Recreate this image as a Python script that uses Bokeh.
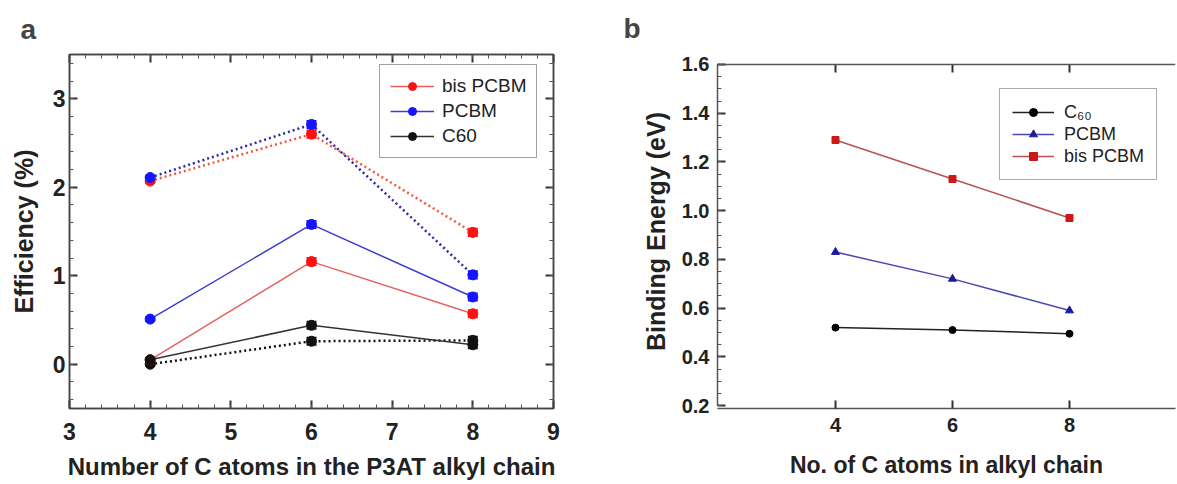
from bokeh.plotting import figure
from bokeh.models import (LinearAxis, SingleIntervalTicker, FixedTicker, Whisker, ColumnDataSource,
                          Legend, LegendItem, TeeHead, Range1d, CustomJSTickFormatter, Span,
                          PrintfTickFormatter)
from bokeh.layouts import row
from bokeh.embed import file_html
from bokeh.resources import INLINE

# ---------------- data: panel a ----------------
chain_a = [4, 6, 8]
bis_solid = [0.05, 1.16, 0.57]
bis_dot = [2.07, 2.60, 1.49]
pcbm_solid = [0.51, 1.58, 0.76]
pcbm_dot = [2.11, 2.71, 1.01]
c60_solid = [0.05, 0.44, 0.22]
c60_dot = [0.00, 0.26, 0.27]
err_a = [0.02, 0.04, 0.04]

# ---------------- data: panel b ----------------
chain_b = [4, 6, 8]
be_c60 = [0.52, 0.51, 0.495]
be_pcbm = [0.83, 0.72, 0.59]
be_bis = [1.29, 1.13, 0.97]
be_axis = (0.2, 1.6)

FONT = "Liberation Sans"
BLANK = CustomJSTickFormatter(code="return ''")
H, TOP, BOT = 484, 52, 76

# ================= panel a =================
pa = figure(width=575, height=H, x_range=Range1d(3, 9), y_range=Range1d(-0.5, 3.5),
            output_backend="svg", toolbar_location=None,
            min_border_left=69, min_border_right=22, min_border_top=TOP, min_border_bottom=BOT)
pa.grid.visible = False
pa.outline_line_color = "#444444"
pa.outline_line_width = 1.5

def style_axis(ax, size, show_labels=True):
    ax.major_tick_in = 8
    ax.major_tick_out = 0
    ax.minor_tick_in = 4
    ax.minor_tick_out = 0
    ax.major_tick_line_color = "#333333"
    ax.minor_tick_line_color = "#555555"
    ax.major_tick_line_width = 2
    ax.axis_line_color = "#444444"
    ax.axis_line_width = 1.5
    ax.major_label_text_font = FONT
    ax.major_label_text_font_style = "bold"
    ax.major_label_text_color = "#222222"
    ax.major_label_text_font_size = size
    if not show_labels:
        ax.formatter = BLANK
        ax.major_label_standoff = 0
    ax.axis_label_text_font = FONT
    ax.axis_label_text_font_style = "bold"
    ax.axis_label_text_color = "#222222"

xa = pa.xaxis[0]
xa.ticker = SingleIntervalTicker(interval=1, num_minor_ticks=5)
style_axis(xa, "23px")
xa.major_label_standoff = 14
xa.axis_label = "Number of C atoms in the P3AT alkyl chain"
xa.axis_label_text_font_size = "24px"
xa.axis_label_standoff = 10

ya = pa.yaxis[0]
ya.ticker = SingleIntervalTicker(interval=1, num_minor_ticks=5)
style_axis(ya, "23px")
ya.major_label_standoff = 4
ya.axis_label = "Efficiency (%)"
ya.axis_label_text_font_size = "25px"
ya.axis_label_standoff = 12

top_a = LinearAxis(ticker=SingleIntervalTicker(interval=1, num_minor_ticks=5))
style_axis(top_a, "23px", show_labels=False)
pa.add_layout(top_a, "above")
right_a = LinearAxis(ticker=SingleIntervalTicker(interval=1, num_minor_ticks=5))
style_axis(right_a, "23px", show_labels=False)
pa.add_layout(right_a, "right")

pa.title.text = "a"
pa.title.text_font = FONT
pa.title.text_font_style = "bold"
pa.title.text_font_size = "28px"
pa.title.align = "left"
pa.title.offset = -49
pa.title.standoff = 19

RED_M, RED_L, RED_D = "#ff1010", "#e86060", "#f05a40"
BLUE_M, BLUE_L, BLUE_D = "#1414ff", "#3c3cd0", "#2a2aa8"
BLK = "#111111"

def series(p, y, mcolor, lcolor, dash, lw):
    ln = p.line(chain_a, y, line_color=lcolor, line_width=lw, line_dash=dash)
    src = ColumnDataSource(dict(x=chain_a, up=[v + e for v, e in zip(y, err_a)],
                                lo=[v - e for v, e in zip(y, err_a)]))
    w = Whisker(source=src, base="x", upper="up", lower="lo", line_color=mcolor, line_width=2,
                upper_head=TeeHead(size=10, line_color=mcolor, line_width=2),
                lower_head=TeeHead(size=10, line_color=mcolor, line_width=2))
    p.add_layout(w)
    sc = p.scatter(chain_a, y, marker="circle", size=10, fill_color=mcolor, line_color=mcolor)
    return ln, sc

l1, s1 = series(pa, bis_dot, RED_M, RED_D, "2 3", 2.5)
l2, s2 = series(pa, pcbm_dot, BLUE_M, BLUE_D, "2 3", 2.5)
l3, s3 = series(pa, c60_dot, BLK, BLK, "2 3", 2.5)
l4, s4 = series(pa, bis_solid, RED_M, RED_L, "solid", 1.5)
l5, s5 = series(pa, pcbm_solid, BLUE_M, BLUE_L, "solid", 1.5)
l6, s6 = series(pa, c60_solid, BLK, "#333333", "solid", 1.5)

leg_a = Legend(items=[LegendItem(label="bis PCBM", renderers=[l4, s4]),
                      LegendItem(label="PCBM", renderers=[l5, s5]),
                      LegendItem(label="C60", renderers=[l6, s6])],
               location=(310, 250))
leg_a.label_text_font = FONT
leg_a.label_text_font_size = "19px"
leg_a.label_text_color = "#222222"
leg_a.glyph_width = 44
leg_a.label_standoff = 8
leg_a.label_height = 21
leg_a.spacing = 3
leg_a.padding = 10
leg_a.margin = 0
leg_a.border_line_color = "#444444"
leg_a.border_line_width = 1.5
pa.add_layout(leg_a, "center")

# ================= panel b =================
y0b, y1b = 0.188, 1.641
pb = figure(width=602, height=H, x_range=Range1d(1.983, 9.812), y_range=Range1d(y0b, y1b),
            output_backend="svg", toolbar_location=None,
            min_border_left=142, min_border_right=2, min_border_top=TOP, min_border_bottom=BOT)
pb.grid.visible = False
pb.outline_line_color = None

xb = pb.xaxis[0]
xb.ticker = FixedTicker(ticks=chain_b)
style_axis(xb, "20px")
xb.axis_line_color = "#555555"
xb.major_label_standoff = 9
xb.axis_label = "No. of C atoms in alkyl chain"
xb.axis_label_text_font_size = "23px"
xb.axis_label_standoff = 17

yb = pb.yaxis[0]
yb.ticker = SingleIntervalTicker(interval=0.2, num_minor_ticks=4)
yb.formatter = PrintfTickFormatter(format="%.1f")
yb.bounds = be_axis
style_axis(yb, "20px")
yb.axis_line_color = "#555555"
yb.major_label_standoff = 8
yb.axis_label = "Binding Energy (eV)"
yb.axis_label_text_font_size = "25px"
yb.axis_label_standoff = 9

# top border of panel b at the top of the value axis, with inward ticks
pb.add_layout(Span(location=be_axis[1], dimension="width", line_color="#555555", line_width=1.5))
px_per_unit = (H - TOP - BOT) / (y1b - y0b)
tick_len = 8 / px_per_unit
pb.segment(x0=chain_b, y0=[be_axis[1]] * len(chain_b), x1=chain_b,
           y1=[be_axis[1] - tick_len] * len(chain_b), line_color="#333333", line_width=2)

pb.title.text = "b"
pb.title.text_font = FONT
pb.title.text_font_style = "bold"
pb.title.text_font_size = "28px"
pb.title.align = "left"
pb.title.offset = -94
pb.title.standoff = 21

b1 = pb.line(chain_b, be_c60, line_color="#222222", line_width=1.5)
m1 = pb.scatter(chain_b, be_c60, marker="circle", size=7, fill_color="black", line_color="black")
b2 = pb.line(chain_b, be_pcbm, line_color="#4848b0", line_width=1.5)
m2 = pb.scatter(chain_b, be_pcbm, marker="triangle", size=8, fill_color="#1a1aa0", line_color="#1a1aa0")
b3 = pb.line(chain_b, be_bis, line_color="#b85050", line_width=1.5)
m3 = pb.scatter(chain_b, be_bis, marker="square", size=7, fill_color="#cc1818", line_color="#cc1818")

leg_b = Legend(items=[LegendItem(label="C₆₀", renderers=[b1, m1]),
                      LegendItem(label="PCBM", renderers=[b2, m2]),
                      LegendItem(label="bis PCBM", renderers=[b3, m3])],
               location=(282, 228))
leg_b.label_text_font = FONT
leg_b.label_text_font_size = "18px"
leg_b.label_text_color = "#222222"
leg_b.glyph_width = 42
leg_b.label_standoff = 10
leg_b.label_height = 22
leg_b.spacing = 0
leg_b.padding = 12
leg_b.margin = 0
leg_b.border_line_color = "#555555"
leg_b.border_line_width = 1.5
pb.add_layout(leg_b, "center")

layout = row(pa, pb)
open("out.html", "w").write(file_html(layout, INLINE))
